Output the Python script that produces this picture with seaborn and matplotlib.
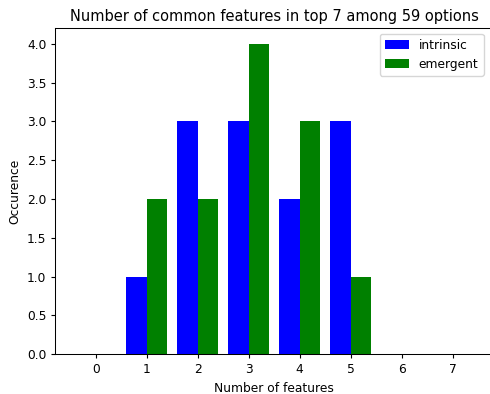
import matplotlib
matplotlib.use("Agg")
import matplotlib.pyplot as plt
import seaborn as sns
import pandas as pd

# Occurrence counts per number of shared features
num_features = [0, 1, 2, 3, 4, 5, 6, 7]
intrinsic = [0, 1, 3, 3, 2, 3, 0, 0]
emergent = [0, 2, 2, 4, 3, 1, 0, 0]
series_names = ["intrinsic", "emergent"]
series_colors = ["blue", "green"]
y_ticks = [0.0, 0.5, 1.0, 1.5, 2.0, 2.5, 3.0, 3.5, 4.0]

df = pd.DataFrame({
    "features": num_features * 2,
    "count": intrinsic + emergent,
    "kind": [series_names[0]] * len(num_features) + [series_names[1]] * len(num_features),
})

plt.rcParams.update({
    "font.size": 8.8,
    "axes.titlesize": 10.5,
    "axes.labelsize": 8.8,
    "xtick.labelsize": 8.8,
    "ytick.labelsize": 8.8,
    "legend.fontsize": 8.8,
    "xtick.major.size": 3.0,
    "ytick.major.size": 3.0,
    "axes.linewidth": 0.75,
})

W, H = 490, 394
fig = plt.figure(figsize=(W / 100, H / 100), dpi=100)
ax = fig.add_axes([55.4 / W, 1 - 354.3 / H, (493.0 - 55.4) / W, (354.3 - 28.3) / H])

sns.barplot(data=df, x="features", y="count", hue="kind",
            palette=series_colors, hue_order=series_names,
            width=0.8, saturation=1, ax=ax)

ax.set_xlim(-0.79, 7.79)
ax.set_ylim(0, 4.2)
ax.set_yticks(y_ticks)
ax.set_yticklabels([f"{v:.1f}" for v in y_ticks])
ax.set_xlabel("Number of features")
ax.set_ylabel("Occurence")
ax.set_title("Number of common features in top 7 among 59 options", pad=5)
ax.legend(title=None, loc="upper right", borderaxespad=0,
          bbox_to_anchor=(483.5 / W, 1 - 34 / H), bbox_transform=fig.transFigure)

fig.savefig("out.png", dpi=100)
